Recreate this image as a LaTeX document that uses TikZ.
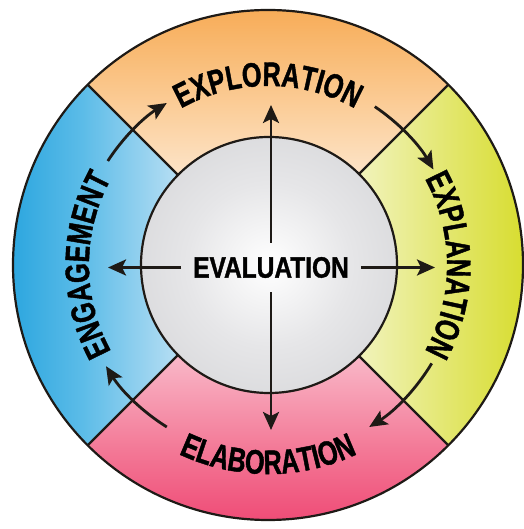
\documentclass[tikz,border=0pt]{standalone}
\usepackage{fontspec}
\newfontfamily\ringfont[FakeStretch=0.74,FakeBold=1.2]{Liberation Sans}
\newfontfamily\evalfont[FakeStretch=0.83,FakeBold=1.2]{Liberation Sans}
\usetikzlibrary{arrows.meta,decorations.text}
\definecolor{orD}{HTML}{F6A448}
\definecolor{orM}{HTML}{FAC486}
\definecolor{orL}{HTML}{FDE4C8}
\definecolor{blD}{HTML}{1C9FDC}
\definecolor{blM}{HTML}{5CBCE8}
\definecolor{blL}{HTML}{B6DEF3}
\definecolor{ylD}{HTML}{D4DA1C}
\definecolor{ylM}{HTML}{E2E66A}
\definecolor{ylL}{HTML}{F1F3BC}
\definecolor{pkD}{HTML}{EE3D6C}
\definecolor{pkM}{HTML}{F37896}
\definecolor{pkL}{HTML}{F9B8C8}
\definecolor{grE}{HTML}{C2C3C6}
\definecolor{grM}{HTML}{E6E6E8}
\definecolor{ink}{HTML}{1E1A16}
\pgfdeclareradialshading{evalball}{\pgfpoint{0bp}{0bp}}{color(0bp)=(white); color(16bp)=(grM); color(50bp)=(grE); color(80bp)=(grE)}
\tikzset{
  outline/.style={draw=ink, line width=2.2pt},
  arr/.style={draw=ink, line width=2.8pt, -{Stealth[length=18pt,width=16pt,inset=4pt]}},
  lab/.style={decorate, decoration={text along path, text align=center,
     text={|\ringfont\bfseries\fontsize{34}{34}\selectfont|#1}}}
}
\begin{document}
\begin{tikzpicture}[x=1pt,y=1pt]
\useasboundingbox (0,0) rectangle (523,529);
\fill[white] (0,0) rectangle (523,529);
\begin{scope}[shift={(268,264)}]
  % sectors
  \path[top color=orD, bottom color=orL, middle color=orM]
    (45:255) arc[start angle=45,end angle=135,radius=255] -- (135:128)
    arc[start angle=135,end angle=45,radius=128] -- cycle;
  \path[left color=ylL, right color=ylD, middle color=ylM]
    (-45:255) arc[start angle=-45,end angle=45,radius=255] -- (45:128)
    arc[start angle=45,end angle=-45,radius=128] -- cycle;
  \path[bottom color=pkD, top color=pkL, middle color=pkM]
    (225:255) arc[start angle=225,end angle=315,radius=255] -- (315:128)
    arc[start angle=315,end angle=225,radius=128] -- cycle;
  \path[left color=blD, right color=blL, middle color=blM]
    (135:255) arc[start angle=135,end angle=225,radius=255] -- (225:128)
    arc[start angle=225,end angle=135,radius=128] -- cycle;
  % outlines
  \draw[outline] (0,0) circle (255);
  \draw[outline, shading=evalball] (1,0) circle (128);
  \foreach \a in {45,135,225,315} \draw[outline] (\a:128) -- (\a:255);
  % ring labels
  \path[lab=EXPLORATION] (150:179) arc[start angle=150,end angle=30,radius=179];
  \path[lab=EXPLANATION] (60:179) arc[start angle=60,end angle=-60,radius=179];
  \path[lab=ELABORATION] (210:209) arc[start angle=210,end angle=330,radius=209];
  \path[lab=ENGAGEMENT] (240:179) arc[start angle=240,end angle=120,radius=179];
  % cycle arrows
  \draw[arr] (147:191) arc[start angle=147,end angle=122,radius=191];
  \draw[arr] (56:191) arc[start angle=56,end angle=30,radius=191];
  \draw[arr] (-31:191) arc[start angle=-31,end angle=-58,radius=191];
  \draw[arr] (-122:191) arc[start angle=-122,end angle=-148,radius=191];
  % evaluation
  \node[inner xsep=12pt, inner ysep=14pt, font=\evalfont\bfseries\fontsize{29.5}{29.5}\selectfont]
    (eval) at (3,-2.5) {EVALUATION};
  \coordinate (tN) at (3,160);
  \coordinate (tS) at (3,-165);
  \coordinate (tW) at (-160,-2.5);
  \coordinate (tE) at (167,-2.5);
  \draw[arr] (eval.north) -- (tN);
  \draw[arr] (eval.south) -- (tS);
  \draw[arr] (eval.west) -- (tW);
  \draw[arr] (eval.east) -- (tE);
\end{scope}
\end{tikzpicture}
\end{document}
